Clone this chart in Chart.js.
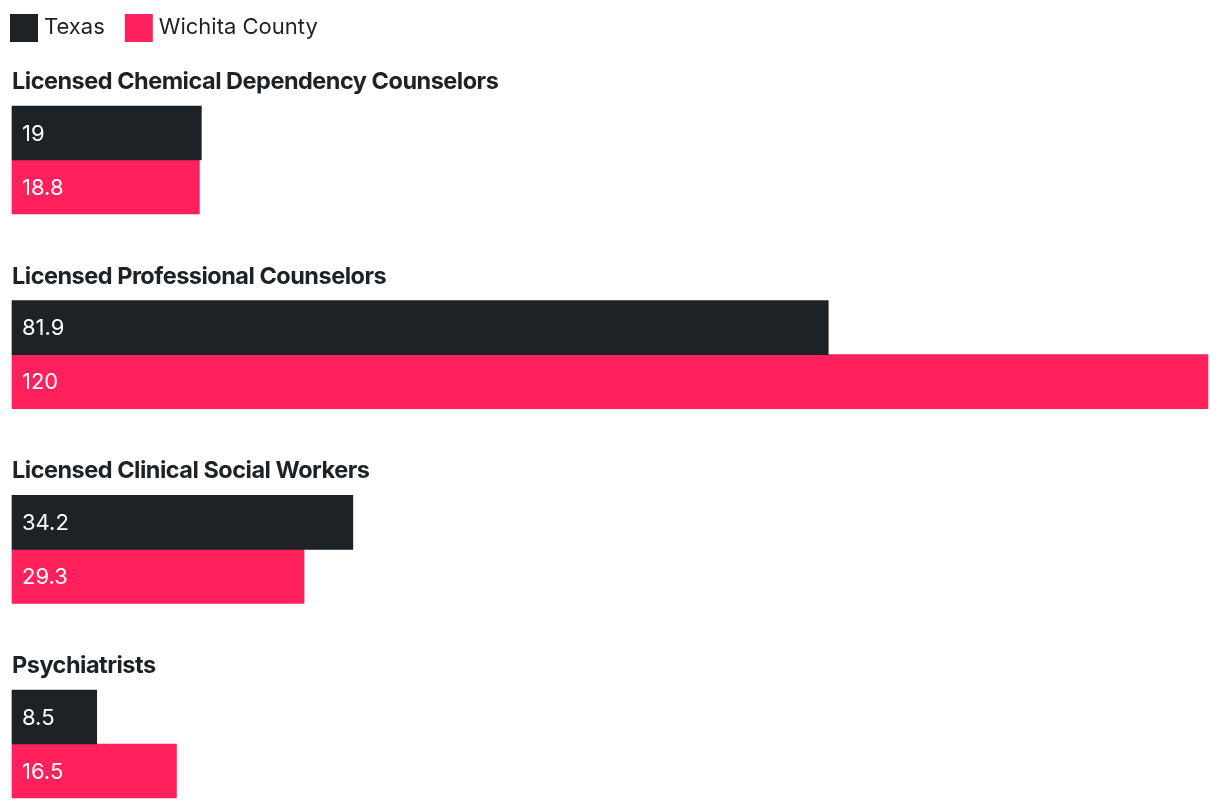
<!DOCTYPE html>
<html>
<head>
<meta charset="utf-8">
<script src="https://cdn.jsdelivr.net/npm/chart.js@4"></script>
<style>
    html, body { margin: 0; padding: 0; background: #ffffff; }
    #wrap { width: 1220px; height: 808px; position: relative; }
</style>
</head>
<body>
<div id="wrap"><canvas id="workforceChart"></canvas></div>
<script>
// --- data ---
const categories = [
    'Licensed Chemical Dependency Counselors',
    'Licensed Professional Counselors',
    'Licensed Clinical Social Workers',
    'Psychiatrists'
];
const seriesNames = ['Texas', 'Wichita County'];
const texasValues = [19, 81.9, 34.2, 8.5];
const wichitaValues = [18.8, 120, 29.3, 16.5];
const seriesColors = ['#1c2226', '#ff205c'];

const FONT = 'Inter, "Noto Sans", sans-serif';

// titles above each group + white numbers inside bars + legend
const groupLabels = {
    id: 'groupLabels',
    afterDatasetsDraw(chart) {
        const ctx = chart.ctx;
        const yScale = chart.scales.y;
        const left = chart.chartArea.left;
        ctx.save();

        // category titles
        ctx.fillStyle = '#1c2226';
        ctx.font = '700 23.5px ' + FONT;
        ctx.letterSpacing = '-0.5px';
        ctx.textAlign = 'left';
        ctx.textBaseline = 'alphabetic';
        chart.data.labels.forEach((label, i) => {
            ctx.fillText(label, left, yScale.getPixelForValue(i) - 71);
        });
        ctx.letterSpacing = '0px';

        // values inside bars
        ctx.fillStyle = '#ffffff';
        ctx.font = '400 22px ' + FONT;
        ctx.textBaseline = 'middle';
        chart.data.datasets.forEach((ds, di) => {
            chart.getDatasetMeta(di).data.forEach((bar, i) => {
                ctx.fillText(String(ds.data[i]), bar.base + 10, bar.y + 1);
            });
        });

        // legend
        let x = 10;
        chart.data.datasets.forEach(ds => {
            ctx.fillStyle = ds.backgroundColor;
            ctx.fillRect(x, 14, 28, 28);
            ctx.fillStyle = '#1c2226';
            ctx.fillText(ds.label, x + 34, 27);
            x += 34 + ctx.measureText(ds.label).width + 20;
        });
        ctx.restore();
    }
};

window.onload = function() {
    const ctx = document.getElementById('workforceChart').getContext('2d');

    new Chart(ctx, {
        type: 'bar',
        data: {
            labels: categories,
            datasets: [
                {
                    label: seriesNames[0],
                    data: texasValues,
                    backgroundColor: seriesColors[0],
                    barThickness: 54,
                    clip: false
                },
                {
                    label: seriesNames[1],
                    data: wichitaValues,
                    backgroundColor: seriesColors[1],
                    barThickness: 54,
                    clip: false
                }
            ]
        },
        options: {
            indexAxis: 'y',
            responsive: true,
            maintainAspectRatio: false,
            animation: false,
            layout: { padding: { top: 160, bottom: 64, left: 12, right: 12 } },
            scales: {
                x: { display: false, min: 0, max: 120 },
                y: { display: false, offset: false, grid: { offset: false } }
            },
            plugins: {
                legend: { display: false },
                tooltip: { enabled: false }
            }
        },
        plugins: [groupLabels]
    });
};
</script>
</body>
</html>
